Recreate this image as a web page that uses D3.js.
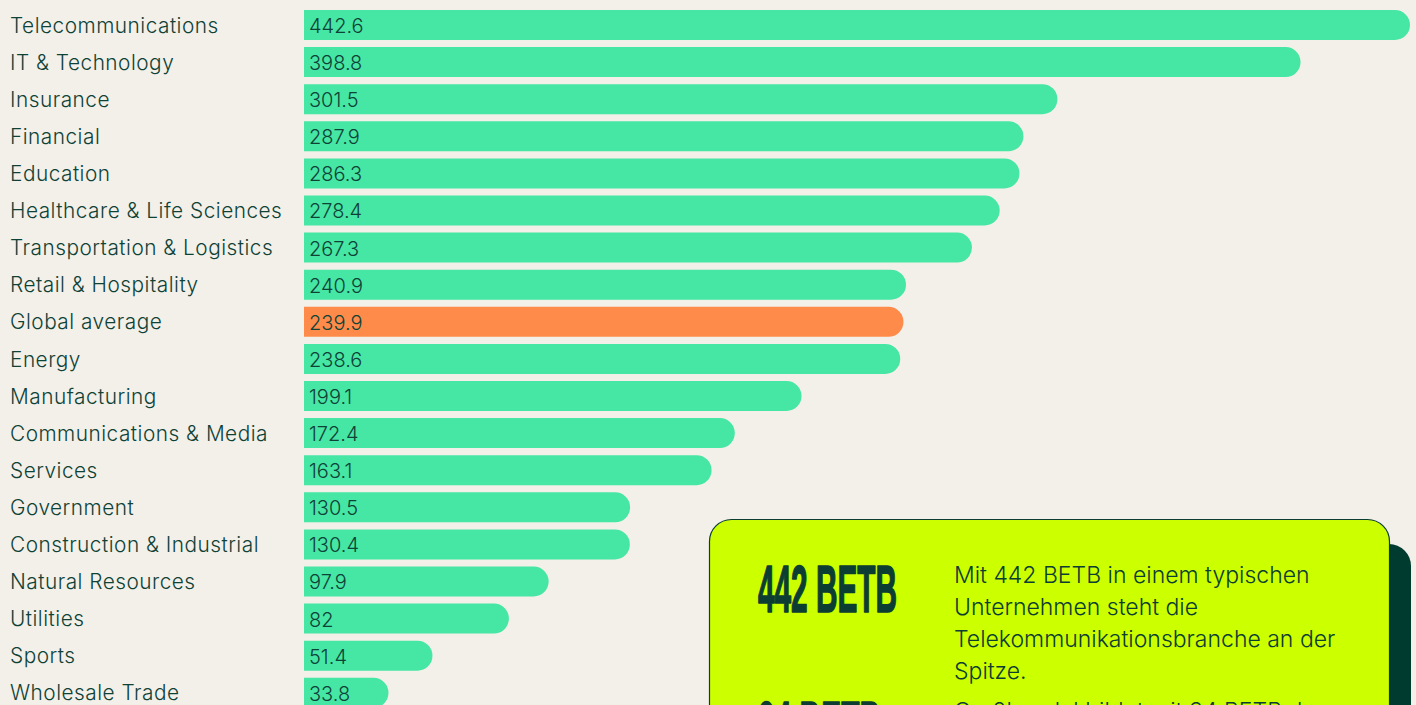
<!DOCTYPE html>
<html>
<head>
<meta charset="utf-8">
<script src="https://cdn.jsdelivr.net/npm/d3@7"></script>
<style>
  html, body { margin: 0; padding: 0; background: #f2f0e9; overflow: hidden; }
  svg { display: block; }
</style>
</head>
<body>
<svg id="chart" width="1416" height="705"></svg>
<script>
"use strict";

// industries, top to bottom
var categories = [
    "Telecommunications", "IT & Technology", "Insurance", "Financial", "Education",
    "Healthcare & Life Sciences", "Transportation & Logistics", "Retail & Hospitality",
    "Global average", "Energy", "Manufacturing", "Communications & Media", "Services",
    "Government", "Construction & Industrial", "Natural Resources", "Utilities", "Sports",
    "Wholesale Trade"
];
var values = [
    442.6, 398.8, 301.5, 287.9, 286.3,
    278.4, 267.3, 240.9,
    239.9, 238.6, 199.1, 172.4, 163.1,
    130.5, 130.4, 97.9, 82, 51.4,
    33.8
];
var valueLabels = [
    "442.6", "398.8", "301.5", "287.9", "286.3",
    "278.4", "267.3", "240.9",
    "239.9", "238.6", "199.1", "172.4", "163.1",
    "130.5", "130.4", "97.9", "82", "51.4",
    "33.8"
];
var highlight = "Global average";

var calloutBig = ["442 BETB", "34 BETB"];
var calloutText = [
    ["Mit 442 BETB in einem typischen", "Unternehmen steht die",
     "Telekommunikationsbranche an der", "Spitze."],
    ["Großhandel bildet mit 34 BETB das", "Schlusslicht."]
];

var textColor = "#0f4237";
var barColor = "#46e6a4";
var hiColor = "#ff8b4b";

var svg = d3.select("#chart");

var step = 37.1, barH = 30;
var x = d3.scaleLinear().domain([0, 442.6]).range([304, 1410]);
var y = d3.scaleBand().domain(categories)
    .range([10, 10 + step * categories.length - (step - barH)])
    .paddingInner((step - barH) / step).paddingOuter(0);

function barPath(d) {
    var x0 = x(0), x1 = x(d.v), t = y(d.c), h = y.bandwidth();
    var r = Math.min(h / 2, x1 - x0);
    return "M" + x0 + "," + t +
        "H" + (x1 - r) +
        "A" + r + "," + r + " 0 0 1 " + x1 + "," + (t + r) +
        "V" + (t + h - r) +
        "A" + r + "," + r + " 0 0 1 " + (x1 - r) + "," + (t + h) +
        "H" + x0 + "Z";
}

var data = categories.map(function (c, i) {
    return { c: c, v: values[i], label: valueLabels[i] };
});

var rows = svg.append("g").attr("class", "rows")
    .selectAll("g").data(data).enter().append("g");

rows.append("path")
    .attr("d", barPath)
    .attr("fill", function (d) { return d.c === highlight ? hiColor : barColor; });

rows.append("text")
    .attr("x", 10)
    .attr("y", function (d) { return y(d.c) + y.bandwidth() / 2 + 2; })
    .attr("dominant-baseline", "middle")
    .style("font-family", "Inter, 'Noto Sans', sans-serif")
    .style("font-size", "20.8px")
    .style("font-weight", 300)
    .style("letter-spacing", "0.5px")
    .attr("fill", textColor)
    .text(function (d) { return d.c; });

rows.append("text")
    .attr("x", x(0) + 5)
    .attr("y", function (d) { return y(d.c) + y.bandwidth() / 2 + 2.5; })
    .attr("dominant-baseline", "middle")
    .style("font-family", "Inter, 'Noto Sans', sans-serif")
    .style("font-size", "20px")
    .style("font-weight", 300)
    .attr("fill", textColor)
    .text(function (d) { return d.label; });

// callout card
var card = svg.append("g").attr("class", "card");
card.append("rect")
    .attr("x", 731).attr("y", 544).attr("width", 680).attr("height", 300)
    .attr("rx", 22).attr("fill", "#003b30");
card.append("rect")
    .attr("x", 709.5).attr("y", 519.5).attr("width", 680).attr("height", 300)
    .attr("rx", 22).attr("fill", "#ccff00")
    .attr("stroke", "#0b3d33").attr("stroke-width", 1.2);

var bigBase = [612, 748];
var textBase = [583, 719];
calloutBig.forEach(function (t, i) {
    card.append("text")
        .attr("x", 758).attr("y", bigBase[i])
        .attr("textLength", i === 0 ? 139 : 123)
        .attr("lengthAdjust", "spacingAndGlyphs")
        .style("font-family", "'Liberation Sans Narrow', 'Liberation Sans', sans-serif")
        .style("font-weight", "bold")
        .style("font-size", "66px")
        .attr("fill", "#0b3d33")
        .attr("stroke", "#0b3d33").attr("stroke-width", 1.6)
        .attr("stroke-linejoin", "round")
        .text(t);
    calloutText[i].forEach(function (line, j) {
        card.append("text")
            .attr("x", 954).attr("y", textBase[i] + j * 32)
            .style("font-family", "Inter, 'Noto Sans', sans-serif")
            .style("font-size", "23px")
            .style("font-weight", 300)
            .attr("fill", "#0b3d33")
            .text(line);
    });
});
</script>
</body>
</html>
